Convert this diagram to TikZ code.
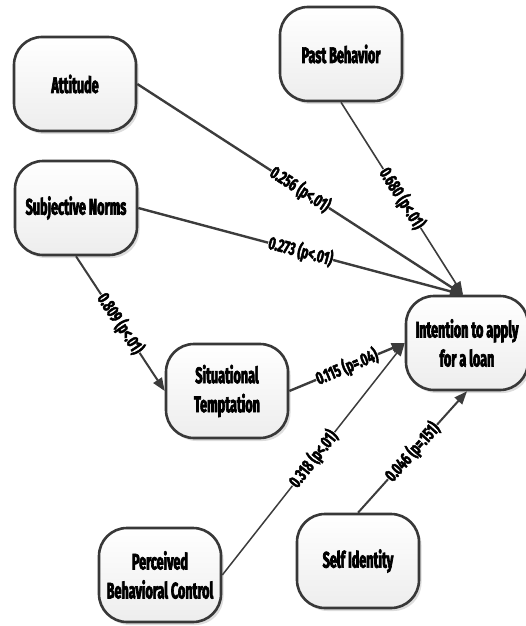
\documentclass[tikz,border=0pt]{standalone}
\usepackage{fontspec}
\newfontfamily\nodefont{Fira Sans}[FakeStretch=0.56,FakeBold=3]
\newfontfamily\labfont{Fira Sans}[FakeStretch=0.66,FakeBold=2.6]
\usetikzlibrary{arrows.meta,shadows}
\definecolor{edgegray}{HTML}{3C3C3C}
\definecolor{boxline}{HTML}{383838}
\tikzset{
  box/.style={draw=boxline, line width=2.6pt, rounded corners=28pt,
    top color=white, bottom color=gray!14, minimum width=122pt, minimum height=94pt,
    inner sep=0pt, align=center, font=\nodefont\bfseries\fontsize{22.5}{29}\selectfont,
    drop shadow={shadow xshift=2.5pt, shadow yshift=-3pt, fill=gray!45, opacity=0.6}},
  conn/.style={draw=edgegray, line width=#1, -{Triangle[length=13pt,width=10pt]}},
  conn/.default=2pt,
  lab/.style={sloped, pos=0.5, fill=white, inner sep=0.5pt,
    font=\labfont\bfseries\fontsize{18}{20}\selectfont}
}
\begin{document}
\begin{tikzpicture}[x=1pt,y=-1pt]
\useasboundingbox (0,0) rectangle (526,626);
\node[box] (att) at (75,84) {Attitude};
\node[box] (pb) at (341,54) {Past Behavior};
\node[box] (sn) at (76,208) {Subjective Norms};
\node[box] (st) at (227,391) {Situational\\Temptation};
\node[box] (int) at (467,343) {Intention to apply\\for a loan};
\node[box] (pbc) at (160,575) {Perceived\\Behavioral Control};
\node[box] (si) at (358,561) {Self Identity};

\draw[conn=2.4pt] (att.east) -- ([xshift=-4pt]int.north) node[lab] {0.256 (p<.01)};
\draw[conn=1.6pt] (pb.south) -- ([xshift=-4pt]int.north) node[lab] {0.680 (p<.01)};
\draw[conn=2.4pt] (sn.east) -- ([xshift=-4pt]int.north) node[lab] {0.273 (p<.01)};
\draw[conn=2pt] (sn.south) -- (st.west) node[lab] {0.809 (p<.01)};
\draw[conn=2.4pt] (st.east) -- (int.west) node[lab] {0.115 (p=.04)};
\draw[conn=1.5pt] (pbc.east) -- (int.west) node[lab] {0.318 (p<.01)};
\draw[conn=2pt] (si.north) -- (int.south) node[lab] {0.046 (p=.151)};
\end{tikzpicture}
\end{document}
